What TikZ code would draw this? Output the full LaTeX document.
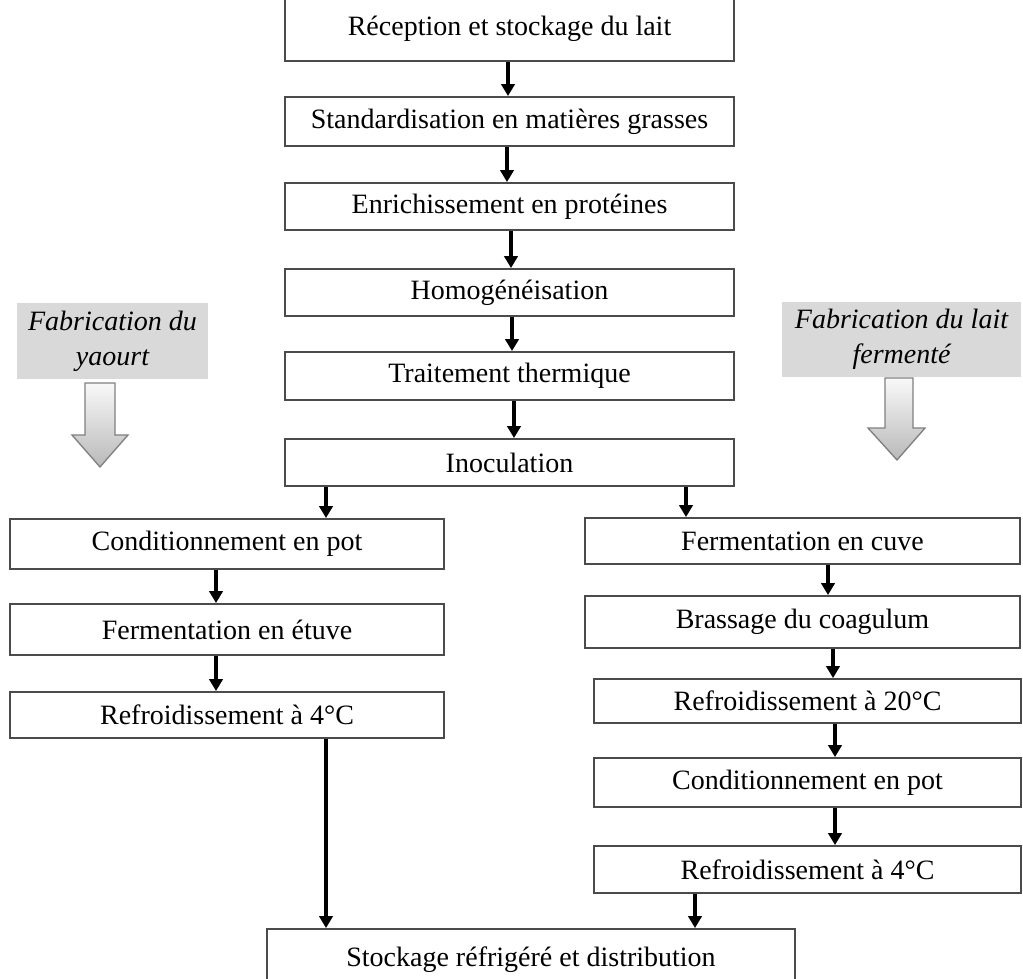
\documentclass[tikz,border=0pt]{standalone}
\usepackage{fontspec}
\setmainfont{Liberation Serif}
\usetikzlibrary{arrows.meta}
\definecolor{fondgris}{RGB}{217,217,217}
\definecolor{bordgris}{RGB}{75,75,75}

\tikzset{
  etape/.style={draw=bordgris,line width=1.4pt,fill=white,inner sep=0pt,
    font=\fontsize{21}{26}\selectfont},
  titre/.style={fill=fondgris,inner sep=0pt,align=center,
    font=\fontsize{21}{26}\selectfont\itshape},
  fleche/.style={-{Triangle[width=10pt,length=9pt]},line width=2.5pt},
  bloc/.style={draw=gray,line width=1pt,top color=gray!5,bottom color=gray!55}
}

\begin{document}
\begin{tikzpicture}[x=0.75pt,y=-0.75pt]
  \useasboundingbox (0,0) rectangle (1023,978);
  % central column
  \node[etape,minimum width=336.75pt,minimum height=48.75pt] (recep) at (509.5,28.5) {Réception et stockage du lait};
  \node[etape,minimum width=336.75pt,minimum height=36.75pt] (stand) at (509.5,121.5) {Standardisation en matières grasses};
  \node[etape,minimum width=336.75pt,minimum height=35.25pt] (enrich) at (509.5,206.5) {Enrichissement en protéines};
  \node[etape,minimum width=336.75pt,minimum height=35.25pt] (homog) at (509.5,292.5) {Homogénéisation};
  \node[etape,minimum width=336.75pt,minimum height=36pt] (trait) at (509.5,376) {Traitement thermique};
  \node[etape,minimum width=336.75pt,minimum height=35.25pt] (inoc) at (509.5,462.5) {Inoculation};
  % yaourt (left)
  \node[etape,minimum width=325.5pt,minimum height=37.5pt] (condY) at (227,544) {Conditionnement en pot};
  \node[etape,minimum width=325.5pt,minimum height=38.25pt] (fermY) at (227,629.5) {Fermentation en étuve};
  \node[etape,minimum width=325.5pt,minimum height=34.5pt] (froidY) at (227,715) {Refroidissement à 4°C};
  % lait fermente (right)
  \node[etape,minimum width=326.25pt,minimum height=34.5pt] (fermL) at (802.5,541) {Fermentation en cuve};
  \node[etape,minimum width=326.25pt,minimum height=39pt] (brass) at (802.5,622) {Brassage du coagulum};
  \node[etape,minimum width=320.25pt,minimum height=33pt] (froidL) at (807.5,701) {Refroidissement à 20°C};
  \node[etape,minimum width=320.25pt,minimum height=36.75pt] (condL) at (807.5,782.5) {Conditionnement en pot};
  \node[etape,minimum width=320.25pt,minimum height=35.25pt] (froidLb) at (807.5,869.5) {Refroidissement à 4°C};
  % end
  \node[etape,minimum width=396pt,minimum height=45.75pt] (stock) at (531,959.5) {Stockage réfrigéré et distribution};

  % titles and block arrows
  \node[titre,minimum width=143.25pt,minimum height=57pt] (titreY) at (112.5,341) {Fabrication du\\yaourt};
  \node[titre,minimum width=179.25pt,minimum height=56.25pt] (titreL) at (901.5,339.5) {Fabrication du lait\\fermenté};
  \draw[bloc] (85,383) -- (115,383) -- (115,435) -- (128,435) -- (100,467) -- (72,435) -- (85,435) -- cycle;
  \draw[bloc] (885,378) -- (913,378) -- (913,428) -- (925,428) -- (897,460) -- (868,428) -- (885,428) -- cycle;

  % x positions of the arrows
  \coordinate (x1) at (508,0);
  \coordinate (x2) at (507,0);
  \coordinate (x3) at (511,0);
  \coordinate (x4) at (512,0);
  \coordinate (x5) at (514,0);
  \coordinate (xg) at (326,0);
  \coordinate (xd) at (686,0);
  \coordinate (xcg) at (216,0);
  \coordinate (xcd1) at (828,0);
  \coordinate (xcd2) at (833,0);
  \coordinate (xcd3) at (835,0);
  \coordinate (xfd) at (695,0);

  % arrows
  \draw[fleche] (recep.south -| x1) -- (stand.north -| x1);
  \draw[fleche] (stand.south -| x2) -- (enrich.north -| x2);
  \draw[fleche] (enrich.south -| x3) -- (homog.north -| x3);
  \draw[fleche] (homog.south -| x4) -- (trait.north -| x4);
  \draw[fleche] (trait.south -| x5) -- (inoc.north -| x5);
  \draw[fleche] (inoc.south -| xg) -- (condY.north -| xg);
  \draw[fleche] (inoc.south -| xd) -- (fermL.north -| xd);
  \draw[fleche] (condY.south -| xcg) -- (fermY.north -| xcg);
  \draw[fleche] (fermY.south -| xcg) -- (froidY.north -| xcg);
  \draw[fleche] (fermL.south -| xcd1) -- (brass.north -| xcd1);
  \draw[fleche] (brass.south -| xcd2) -- (froidL.north -| xcd2);
  \draw[fleche] (froidL.south -| xcd3) -- (condL.north -| xcd3);
  \draw[fleche] (condL.south -| xcd3) -- (froidLb.north -| xcd3);
  \draw[fleche] (froidY.south -| xg) -- (stock.north -| xg);
  \draw[fleche] (froidLb.south -| xfd) -- (stock.north -| xfd);
\end{tikzpicture}
\end{document}
